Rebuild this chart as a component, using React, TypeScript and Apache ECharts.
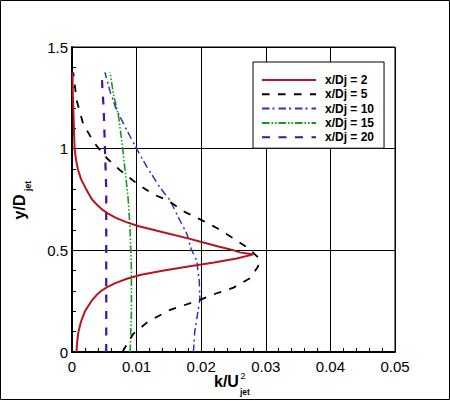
import React, { useEffect, useRef } from "react";
import * as echarts from "echarts";

// ---- data ----
const seriesNames = ["x/Dj = 2", "x/Dj = 5", "x/Dj = 10", "x/Dj = 15", "x/Dj = 20"];
const xTicks = [0, 0.01, 0.02, 0.03, 0.04, 0.05];
const yTicks = [0, 0.5, 1, 1.5];

// x/Dj = 2
const k2 = [0.0007, 0.0008, 0.001, 0.0014, 0.002, 0.003, 0.0038, 0.0045, 0.0055, 0.0068, 0.0085, 0.0107, 0.014, 0.018, 0.022, 0.0255, 0.0281,
  0.026, 0.025, 0.0225, 0.0202, 0.0178, 0.0152, 0.0127, 0.0102, 0.0083, 0.0068, 0.0056, 0.0047, 0.004, 0.0031, 0.0022, 0.0014, 0.0009, 0.0006, 0.0004, 0.0003, 0.0002, 0.0001, 0.0001];
const y2 = [0, 0.05, 0.1, 0.15, 0.2, 0.25, 0.28, 0.3, 0.32, 0.34, 0.36, 0.38, 0.4, 0.42, 0.44, 0.46, 0.48,
  0.49, 0.5, 0.52, 0.54, 0.56, 0.58, 0.6, 0.62, 0.64, 0.66, 0.68, 0.7, 0.72, 0.75, 0.8, 0.85, 0.9, 0.95, 1.0, 1.1, 1.2, 1.3, 1.375];

// x/Dj = 5
const k5 = [0.0078, 0.0095, 0.0118, 0.0152, 0.0198, 0.0224, 0.0249, 0.0276, 0.0288, 0.029, 0.0273, 0.025, 0.0224, 0.02, 0.0175, 0.0147, 0.0126, 0.01, 0.0074, 0.0054, 0.0033, 0.0017, 0.0007, 0.0002];
const y5 = [0, 0.09, 0.15, 0.207, 0.256, 0.289, 0.315, 0.364, 0.42, 0.46, 0.51, 0.559, 0.61, 0.65, 0.688, 0.748, 0.775, 0.83, 0.895, 0.953, 1.034, 1.125, 1.24, 1.375];

// x/Dj = 10
const k10 = [0.0188, 0.019, 0.0195, 0.0198, 0.0197, 0.0193, 0.0184, 0.0178, 0.0165, 0.0152, 0.0136, 0.0116, 0.01, 0.0085, 0.0069, 0.0059, 0.0051];
const y10 = [0, 0.1, 0.2, 0.26, 0.35, 0.45, 0.51, 0.58, 0.66, 0.745, 0.81, 0.91, 1.0, 1.09, 1.19, 1.28, 1.375];

// x/Dj = 15
const k15 = [0.009, 0.0092, 0.0092, 0.009, 0.0087, 0.0082, 0.0077, 0.0072, 0.0064, 0.0059];
const y15 = [0, 0.2, 0.4, 0.6, 0.75, 0.9, 1.04, 1.16, 1.27, 1.375];

// x/Dj = 20
const k20 = [0.0053, 0.0053, 0.0053, 0.0051, 0.0049, 0.0047, 0.0046];
const y20 = [0, 0.5, 0.8, 1.0, 1.2, 1.3, 1.375];

const colors = ["#b8141e", "#000000", "#3030c8", "#169a16", "#44109c"];
const widths = [2, 1.8, 1.5, 1.6, 2.2];
const dashes: any[] = ["solid", [7.5, 8.5], [7.5, 3, 2, 4], [7.5, 2, 1.5, 2, 1.5, 2], [8, 8.5]];

const pairs = (xs: number[], ys: number[]) => xs.map((x, i) => [x, ys[i]]);
const curves = [pairs(k2, y2), pairs(k5, y5), pairs(k10, y10), pairs(k15, y15), pairs(k20, y20)];

const FONT = "Liberation Sans, Arial, Helvetica, sans-serif";

export default function App() {
  const ref = useRef<HTMLDivElement>(null);
  useEffect(() => {
    if (!ref.current) return;
    const chart = echarts.init(ref.current, null, { renderer: "svg" });
    chart.setOption({
      animation: false,
      backgroundColor: "#ffffff",
      grid: {
        left: 72, right: 55, top: 47, bottom: 49,
        show: true, borderColor: "#000", borderWidth: 1, backgroundColor: "transparent",
      },
      xAxis: {
        type: "value",
        min: xTicks[0], max: xTicks[xTicks.length - 1], interval: 0.01,
        axisLine: { show: true, lineStyle: { color: "#000", width: 2 } },
        axisTick: { show: true, inside: true, length: 6, lineStyle: { color: "#000" } },
        minorTick: { show: true, splitNumber: 5, length: 4, lineStyle: { color: "#000" } },
        splitLine: { show: true, lineStyle: { color: "#000", width: 1 } },
        axisLabel: {
          color: "#000", fontSize: 15, fontFamily: FONT, margin: 7,
          formatter: (v: number) => (v === 0 ? "0" : String(Math.round(v * 100) / 100)),
        },
      },
      yAxis: {
        type: "value",
        min: yTicks[0], max: yTicks[yTicks.length - 1], interval: 0.5,
        axisLine: { show: true, lineStyle: { color: "#000", width: 2 } },
        axisTick: { show: true, inside: true, length: 6, lineStyle: { color: "#000" } },
        minorTick: { show: true, splitNumber: 5, length: 4, lineStyle: { color: "#000" } },
        splitLine: { show: true, lineStyle: { color: "#000", width: 1 } },
        axisLabel: {
          color: "#000", fontSize: 15, fontFamily: FONT, margin: 4,
          formatter: (v: number) => String(v),
        },
      },
      legend: {
        orient: "vertical",
        left: 253, top: 62,
        padding: [12, 10, 5, 8],
        itemWidth: 54, itemHeight: 12, itemGap: 2.3,
        backgroundColor: "#fff", borderColor: "#000", borderWidth: 1,
        itemStyle: { color: "rgba(0,0,0,0)", borderWidth: 0, opacity: 0 },
        textStyle: { color: "#000", fontSize: 12, fontWeight: "bold", fontFamily: FONT, padding: [0, 0, 0, 4] },
        data: seriesNames,
      },
      series: seriesNames.map((name, i) => ({
        name,
        type: "line",
        data: curves[i],
        symbol: "none",
        showSymbol: false,
        smooth: false,
        z: 5 - i + 2,
        color: colors[i],
        lineStyle: { color: colors[i], width: widths[i], type: dashes[i] },
      })),
      graphic: [
        { type: "rect", shape: { x: 0.5, y: 0.5, width: 449, height: 399 }, style: { fill: "none", stroke: "#000", lineWidth: 1 }, silent: true },
        { type: "text", x: 19, y: 207, rotation: Math.PI / 2, style: { text: "y/D", fontSize: 16, fontWeight: "bold", fontFamily: FONT, fill: "#000", align: "center", verticalAlign: "middle" } },
        { type: "text", x: 27.5, y: 186, rotation: Math.PI / 2, style: { text: "jet", fontSize: 8.5, fontWeight: "bold", fontFamily: FONT, fill: "#000", align: "center", verticalAlign: "middle" } },
        { type: "text", x: 214, y: 381.5, style: { text: "k/U", fontSize: 16, fontWeight: "bold", fontFamily: FONT, fill: "#000", align: "left", verticalAlign: "middle" } },
        { type: "text", x: 240, y: 392, style: { text: "jet", fontSize: 8.5, fontWeight: "bold", fontFamily: FONT, fill: "#000", align: "left", verticalAlign: "middle" } },
        { type: "text", x: 240.5, y: 376, style: { text: "2", fontSize: 9, fontFamily: FONT, fill: "#000", align: "left", verticalAlign: "middle" } },
      ],
    });
    return () => chart.dispose();
  }, []);
  return <div ref={ref} style={{ position: "fixed", left: 0, top: 0, width: 450, height: 401 }} />;
}
